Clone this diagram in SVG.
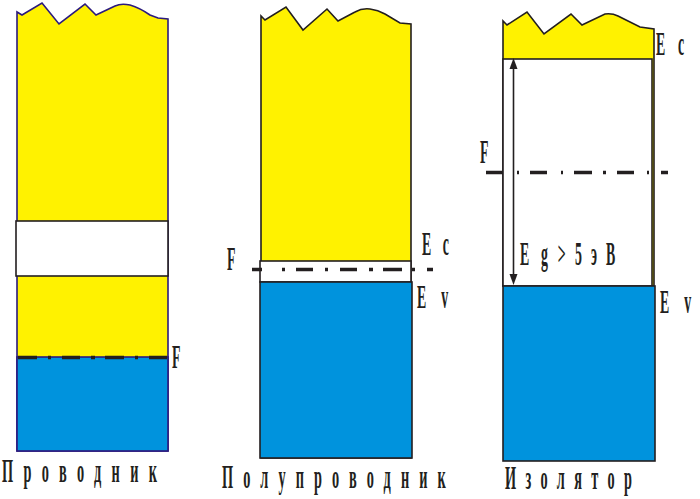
<svg xmlns="http://www.w3.org/2000/svg" width="700" height="499" viewBox="0 0 700 499">
<style>
.yel{fill:#FFF200}
.blu{fill:#0093DD}
.wht{fill:#FFFFFF}
.nav{stroke:#2B1A7E;stroke-width:1.6}
.drk{stroke:#231F20;stroke-width:1.6}
.fermi{fill:none;stroke:#231F20;stroke-width:3.5}
.lbl{font-family:"Liberation Serif",serif;font-size:33px;font-weight:bold;fill:#231F20}
.cap{font-family:"Liberation Serif",serif;font-size:34px;font-weight:bold;fill:#231F20}
.arr{stroke:#231F20;stroke-width:1.6;fill:none}
.head{fill:#231F20}
</style>
<g id="conductor">
<path class="yel nav" d="M17,451 V12 L22,15 L42,3 L59,24 L85,4 L96,15 L115,6 Q121,3 130,5 Q140,8 150,15 L158,18 L168,19 V451 Z"/>
<rect class="wht drk" x="16" y="221" width="152" height="55"/>
<rect class="blu nav" x="17" y="357" width="151" height="94"/>
<path class="fermi" d="M18,357.5H37M48,357.5H51M62,357.5H80M91,357.5H95M105,357.5H124M135,357.5H138M149,357.5H167"/>
<text class="lbl" transform="translate(172,368) scale(0.42,1)">F</text>
<text class="cap" transform="translate(2,482) scale(0.42,1)" textLength="369" lengthAdjust="spacing">Проводник</text>
</g>
<g id="semiconductor">
<path class="yel drk" d="M261,458 V16 L265,20 L286,7 L303,30 L327,9 L338,21 L355,12 Q362,8 370,9 Q378,10 385,14 L400,23 L411,24 V458 Z"/>
<rect class="wht drk" x="260" y="261" width="151" height="21"/>
<rect class="blu drk" x="260" y="282" width="152" height="176"/>
<path class="fermi" d="M252,269.5H262M282,269.5H285M296,269.5H313M325,269.5H328M340,269.5H357M369,269.5H373M383,269.5H402M412,269.5H415M427,269.5H433"/>
<text class="lbl" transform="translate(227,270) scale(0.42,1)">F</text>
<text class="lbl" transform="translate(422,255) scale(0.42,1)" textLength="64" lengthAdjust="spacing">Ec</text>
<text class="lbl" transform="translate(417,308) scale(0.42,1)" textLength="74" lengthAdjust="spacing">Ev</text>
<text class="cap" transform="translate(222,488) scale(0.42,1)" textLength="533" lengthAdjust="spacing">Полупроводник</text>
</g>
<g id="insulator">
<path class="yel drk" d="M503,286 V21 L507,25 L527,12 L544,34 L571,14 L582,25 L605,14 Q612,13 618,16 L640,27 L654,29 V286 Z"/>
<rect class="wht drk" x="503" y="59" width="149" height="227"/>
<rect class="blu drk" x="503" y="286" width="152" height="175"/>
<path class="fermi" d="M486,172.5H503M517,172.5H519M530,172.5H547M561,172.5H563M574,172.5H592M603,172.5H606M617,172.5H634M647,172.5H649M661,172.5H668"/>
<text class="lbl" transform="translate(480,163) scale(0.42,1)">F</text>
<text class="lbl" transform="translate(656,55) scale(0.42,1)" textLength="67" lengthAdjust="spacing">Ec</text>
<text class="lbl" transform="translate(660,313) scale(0.42,1)" textLength="74" lengthAdjust="spacing">Ev</text>
<text class="lbl" transform="translate(520,265) scale(0.42,1)"><tspan x="0">E</tspan><tspan x="50">g </tspan><tspan x="90">&gt; </tspan><tspan x="131">5 </tspan><tspan x="169">э</tspan><tspan x="205">В</tspan></text>
<text class="cap" transform="translate(505,489) scale(0.42,1)" textLength="302" lengthAdjust="spacing">Изолятор</text>
</g>
<g id="connectors">
<line class="arr" x1="513.5" y1="67" x2="513.5" y2="276"/>
<polygon class="head" points="513.5,58 509.5,69 517.5,69"/>
<polygon class="head" points="513.5,285 509.5,274 517.5,274"/>
</g>
</svg>
